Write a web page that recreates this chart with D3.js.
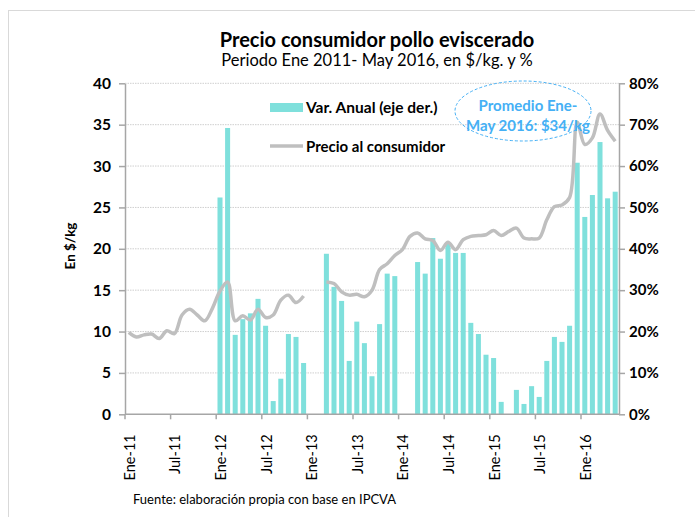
<!DOCTYPE html>
<html>
<head>
<meta charset="utf-8">
<script src="https://cdn.jsdelivr.net/npm/d3@7"></script>
<style>
	body { margin: 0; background: #ffffff; }
	svg text { font-family: Lato, 'Open Sans', sans-serif; }
</style>
</head>
<body>
<script>
// meses (Ene-11 .. May-16)
const month_names = ['Ene', 'Feb', 'Mar', 'Abr', 'May', 'Jun', 'Jul', 'Ago', 'Sep', 'Oct', 'Nov', 'Dic'];
const years = ['11', '12', '13', '14', '15', '16'];
const months = years.flatMap(y => month_names.map(m => m + '-' + y)).slice(0, 65);

const tick_labels = ['Ene-11', 'Jul-11', 'Ene-12', 'Jul-12', 'Ene-13', 'Jul-13', 'Ene-14', 'Jul-14', 'Ene-15', 'Jul-15', 'Ene-16'];

// precio al consumidor, $/kg (eje izq.)
const precio = [
	9.9, 9.35, 9.6, 9.7, 9.15, 10.1, 9.75, 12.0, 12.7, 12.0, 11.3, 12.8,
	14.9, 16.0, 11.3, 11.9, 11.4, 12.7, 11.7, 12.0, 13.8, 14.4, 13.5, 14.3,
	null, null, 16.0, 15.8, 14.8, 14.4, 14.5, 14.2, 15.0, 17.5, 18.2, 19.2,
	19.9, 21.5, 21.9, 21.2, 21.0, 19.8, 20.8, 19.9, 21.1, 21.5, 21.6, 21.7,
	22.2, 21.6, 22.1, 22.5, 21.3, 21.2, 21.3, 23.5, 25.1, 25.3, 26.2, 35.3,
	32.6, 33.4, 36.3, 34.3, 33.0
];

// variacion anual, % (eje der.)
const var_anual = [
	null, null, null, null, null, null, null, null, null, null, null, null,
	52.4, 69.2, 19.2, 23.0, 24.4, 27.9, 21.4, 3.2, 8.6, 19.4, 18.7, 12.4,
	null, null, 38.8, 30.8, 27.4, 12.9, 22.4, 17.2, 9.2, 21.8, 34.0, 33.4,
	null, null, 36.8, 34.0, 42.6, 37.6, 41.6, 39.0, 39.0, 22.1, 19.4, 14.4,
	13.6, 3.0, null, 5.9, 2.5, 6.8, 4.2, 12.9, 18.7, 17.5, 21.4, 60.8,
	47.7, 53.0, 65.8, 52.2, 53.8
];

const left_ticks = [0, 5, 10, 15, 20, 25, 30, 35, 40];
const right_ticks = [0, 10, 20, 30, 40, 50, 60, 70, 80];

function init()
{
	const width = 695;
	const height = 517;
	const plot = {left: 125, right: 619, top: 83.3, bottom: 414.3};
	const bar_color = '#7fe0dc';
	const line_color = '#bfbfbf';
	const axis_color = '#a6a6a6';
	const blue = '#45b0f5';

	var svg = d3.select('body').append('svg')
		.attr('width', width)
		.attr('height', height);

	// marco
	svg.append('rect')
		.attr('x', 8.5).attr('y', 10.5)
		.attr('width', 720).attr('height', 540)
		.attr('fill', 'none')
		.attr('stroke', '#d9d9d9');

	var x = d3.scaleBand()
		.domain(months)
		.range([plot.left, plot.right])
		.paddingInner(0.34)
		.paddingOuter(0.17);

	var y_left = d3.scaleLinear().domain([0, 40]).range([plot.bottom, plot.top]);
	var y_right = d3.scaleLinear().domain([0, 80]).range([plot.bottom, plot.top]);

	// grilla
	svg.append('g')
		.selectAll('line')
		.data(left_ticks.slice(1))
		.enter()
		.append('line')
			.attr('x1', plot.left).attr('x2', plot.right)
			.attr('y1', d => y_left(d)).attr('y2', d => y_left(d))
			.attr('stroke', '#cfcfcf')
			.attr('stroke-width', 1)
			.attr('stroke-dasharray', '1.5,1');

	// barras
	svg.append('g')
		.selectAll('rect')
		.data(months.map((m, i) => ({month: m, value: var_anual[i]})).filter(d => d.value != null))
		.enter()
		.append('rect')
			.attr('x', d => x(d.month))
			.attr('width', x.bandwidth())
			.attr('y', d => y_right(d.value))
			.attr('height', d => plot.bottom - y_right(d.value))
			.attr('fill', bar_color);

	// linea de precio
	svg.append('path')
		.datum(months.map((m, i) => ({month: m, value: precio[i]})))
		.attr('fill', 'none')
		.attr('stroke', line_color)
		.attr('stroke-width', 3.5)
		.attr('stroke-linejoin', 'round')
		.attr('d', d3.line()
			.defined(d => d.value != null)
			.curve(d3.curveCatmullRom)
			.x(d => x(d.month) + x.bandwidth() / 2)
			.y(d => y_left(d.value)));

	// eje izquierdo
	var left_axis = svg.append('g')
		.attr('transform', 'translate(' + plot.left + ',0)')
		.call(d3.axisLeft(y_left).tickValues(left_ticks).tickSize(6).tickPadding(8).tickSizeOuter(0));
	left_axis.selectAll('text')
		.attr('font-size', 15.5)
		.attr('font-weight', 'bold')
		.attr('fill', '#000');

	// eje derecho
	var right_axis = svg.append('g')
		.attr('transform', 'translate(' + plot.right + ',0)')
		.call(d3.axisRight(y_right).tickValues(right_ticks).tickSize(6).tickPadding(4).tickSizeOuter(0)
			.tickFormat(d => d + '%'));
	right_axis.selectAll('text')
		.attr('font-size', 15)
		.attr('font-weight', 'bold')
		.attr('fill', '#000');

	// eje x: marcas en el borde de cada categoria
	var bottom_axis = svg.append('g');
	bottom_axis.append('line')
		.attr('x1', plot.left).attr('x2', plot.right)
		.attr('y1', plot.bottom).attr('y2', plot.bottom);
	bottom_axis.selectAll('line.tick')
		.data(tick_labels)
		.enter()
		.append('line')
			.attr('class', 'tick')
			.attr('x1', d => x(d) - x.step() * x.paddingInner() / 2)
			.attr('x2', d => x(d) - x.step() * x.paddingInner() / 2)
			.attr('y1', plot.bottom).attr('y2', plot.bottom + 5);
	bottom_axis.selectAll('text')
		.data(tick_labels)
		.enter()
		.append('text')
			.attr('transform', d => 'translate(' + (x(d) + x.bandwidth() / 2 + 1) + ',' + (plot.bottom + 20) + ') rotate(-90)')
			.attr('text-anchor', 'end')
			.attr('dy', '0.35em')
			.attr('font-size', 14.5)
			.text(d => d);

	svg.selectAll('.domain, .tick line, line.tick, g > line:not([stroke])')
		.attr('stroke', axis_color)
		.attr('stroke-width', 1.5);

	// titulo del eje
	svg.append('text')
		.attr('transform', 'translate(75,246) rotate(-90)')
		.attr('text-anchor', 'middle')
		.attr('font-size', 13.5)
		.attr('font-weight', 'bold')
		.text('En $/kg');

	// titulos
	svg.append('text')
		.attr('x', 377).attr('y', 47)
		.attr('text-anchor', 'middle')
		.attr('font-size', 20)
		.attr('font-weight', 'bold')
		.text('Precio consumidor  pollo eviscerado');
	svg.append('text')
		.attr('x', 377).attr('y', 66)
		.attr('text-anchor', 'middle')
		.attr('font-size', 16.5)
		.text('Periodo Ene 2011- May 2016,  en $/kg. y %');

	// leyenda
	var legend = svg.append('g');
	legend.append('rect')
		.attr('x', 270).attr('y', 103)
		.attr('width', 33).attr('height', 9)
		.attr('fill', bar_color);
	legend.append('text')
		.attr('x', 306).attr('y', 108)
		.attr('dy', '0.35em')
		.attr('font-size', 15.5)
		.attr('font-weight', 'bold')
		.text('Var. Anual (eje der.)');
	legend.append('line')
		.attr('x1', 270).attr('x2', 303)
		.attr('y1', 146).attr('y2', 146)
		.attr('stroke', line_color)
		.attr('stroke-width', 3.5);
	legend.append('text')
		.attr('x', 306).attr('y', 146.5)
		.attr('dy', '0.35em')
		.attr('font-size', 15)
		.attr('font-weight', 'bold')
		.text('Precio al consumidor');

	// nota promedio
	svg.append('ellipse')
		.attr('cx', 523).attr('cy', 111)
		.attr('rx', 68).attr('ry', 30)
		.attr('fill', 'none')
		.attr('stroke', blue)
		.attr('stroke-width', 1)
		.attr('stroke-dasharray', '3,2');
	svg.append('text')
		.attr('x', 528).attr('y', 106)
		.attr('dy', '0.35em')
		.attr('text-anchor', 'middle')
		.attr('font-size', 15)
		.attr('font-weight', 'bold')
		.attr('fill', blue)
		.text('Promedio Ene-');
	svg.append('text')
		.attr('x', 528).attr('y', 126)
		.attr('dy', '0.35em')
		.attr('text-anchor', 'middle')
		.attr('font-size', 15)
		.attr('font-weight', 'bold')
		.attr('fill', blue)
		.text('May 2016: $34/kg');

	// fuente
	svg.append('text')
		.attr('x', 133).attr('y', 504)
		.attr('font-size', 13)
		.text('Fuente: elaboración propia  con base en IPCVA');
}

init();
</script>
</body>
</html>
